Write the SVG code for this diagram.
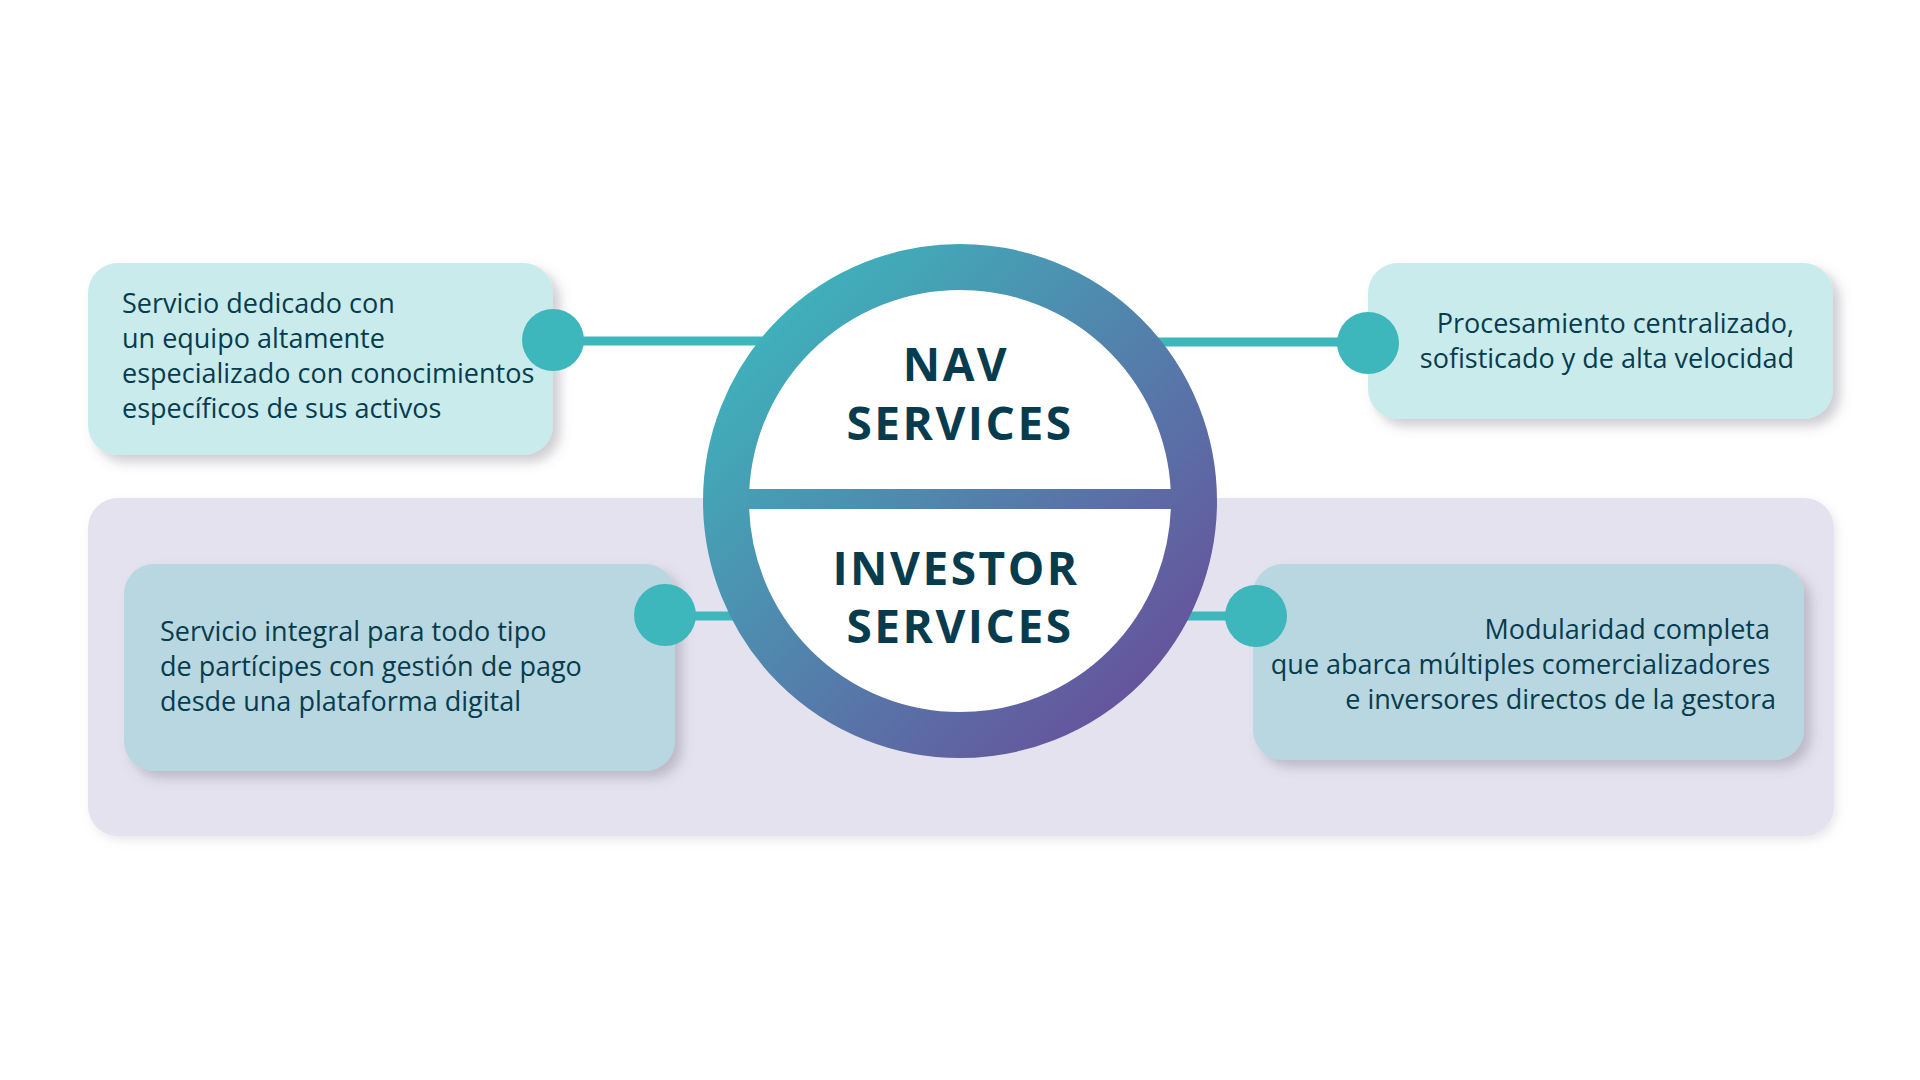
<svg xmlns="http://www.w3.org/2000/svg" width="1920" height="1080" viewBox="0 0 1920 1080">
<defs>
<linearGradient id="ringGrad" gradientUnits="userSpaceOnUse" x1="760" y1="300" x2="1160" y2="700">
<stop offset="0" stop-color="#3db5bc"/>
<stop offset="1" stop-color="#67509c"/>
</linearGradient>
<filter id="shadow" x="-10%" y="-20%" width="125%" height="150%">
<feDropShadow dx="7" dy="7" stdDeviation="6" flood-color="#5a5a6e" flood-opacity="0.3"/>
</filter>
<filter id="softShadow" x="-5%" y="-10%" width="110%" height="125%">
<feDropShadow dx="3" dy="4" stdDeviation="5" flood-color="#8a8aa0" flood-opacity="0.2"/>
</filter>
</defs>
<style>
.band{fill:#e5e2ef}
.boxTop{fill:#caebec}
.boxBottom{fill:#b8d7e0}
.txt{font-family:"Open Sans","Noto Sans","Liberation Sans",sans-serif;font-size:27px;fill:#073c4e}
.title{font-family:"Open Sans","Noto Sans","Liberation Sans",sans-serif;font-size:46px;font-weight:700;letter-spacing:2.5px;fill:#073c4e;text-anchor:middle}
.dot{fill:#3db6bc}
.line{stroke:#3db6bc;stroke-width:9;fill:none}
</style>
<rect id="band" class="band" x="88" y="498" width="1746" height="338" rx="30" filter="url(#softShadow)"/>
<g id="node-top-left">
<rect class="boxTop" x="88" y="263" width="465" height="192" rx="30" filter="url(#shadow)"/>
<text class="txt"><tspan x="122" y="313">Servicio dedicado con</tspan><tspan x="122" y="348">un equipo altamente</tspan><tspan x="122" y="383">especializado con conocimientos</tspan><tspan x="122" y="418">específicos de sus activos</tspan></text>
</g>
<g id="node-top-right">
<rect class="boxTop" x="1368" y="263" width="465" height="156" rx="30" filter="url(#shadow)"/>
<text class="txt" text-anchor="end"><tspan x="1794" y="333">Procesamiento centralizado,</tspan><tspan x="1794" y="368">sofisticado y de alta velocidad</tspan></text>
</g>
<g id="node-bottom-left">
<rect class="boxBottom" x="124" y="564" width="551" height="207" rx="30" filter="url(#shadow)"/>
<text class="txt"><tspan x="160" y="641">Servicio integral para todo tipo</tspan><tspan x="160" y="676">de partícipes con gestión de pago</tspan><tspan x="160" y="711">desde una plataforma digital</tspan></text>
</g>
<g id="node-bottom-right">
<rect class="boxBottom" x="1253" y="564" width="551" height="196" rx="30" filter="url(#shadow)"/>
<text class="txt" text-anchor="end"><tspan x="1770" y="639">Modularidad completa</tspan><tspan x="1770" y="674">que abarca múltiples comercializadores</tspan><tspan x="1776" y="709">e inversores directos de la gestora</tspan></text>
</g>
<g id="connectors">
<line class="line" x1="553" y1="341" x2="780" y2="341"/>
<line class="line" x1="1140" y1="342" x2="1368" y2="342"/>
<line class="line" x1="665" y1="616" x2="760" y2="616"/>
<line class="line" x1="1160" y1="616" x2="1256" y2="616"/>
<circle class="dot" cx="553" cy="340" r="31"/>
<circle class="dot" cx="1368" cy="343" r="31"/>
<circle class="dot" cx="665" cy="615" r="31"/>
<circle class="dot" cx="1256" cy="616" r="31"/>
</g>
<g id="center">
<circle cx="960" cy="501" r="234" fill="#ffffff" stroke="url(#ringGrad)" stroke-width="46"/>
<rect x="740" y="489" width="440" height="20" fill="url(#ringGrad)"/>
<text class="title"><tspan x="956" y="381">NAV</tspan><tspan x="960" y="440">SERVICES</tspan></text>
<text class="title"><tspan x="956" y="585">INVESTOR</tspan><tspan x="960" y="643">SERVICES</tspan></text>
</g>
</svg>
